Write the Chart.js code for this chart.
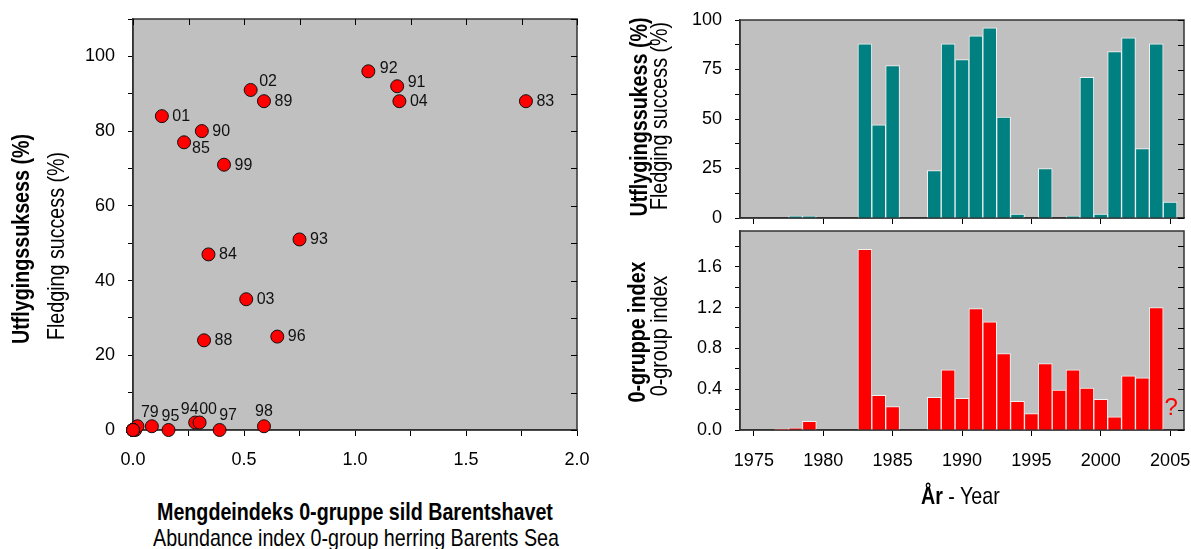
<!DOCTYPE html>
<html>
<head>
<meta charset="utf-8">
<script src="https://cdn.jsdelivr.net/npm/chart.js@4.4.1/dist/chart.umd.min.js"></script>
<style>
  body { margin: 0; background: #fff; }
  #wrap { position: relative; width: 1191px; height: 549px; overflow: hidden;
          font-family: "Liberation Sans", Arial, sans-serif; color: #000; }
  canvas { position: absolute; }
  .t { position: absolute; white-space: nowrap; font-size: 24px; line-height: 24px; }
  .b { font-weight: bold; }
  .rot { transform: translate(-50%, -50%) rotate(-90deg) scaleX(0.82); }
  .hz { transform-origin: left center; transform: scaleX(0.82); }
</style>
</head>
<body>
<div id="wrap">
  <canvas id="scatter" width="600" height="480" style="left:0;top:0"></canvas>
  <canvas id="fledge" width="591" height="230" style="left:600px;top:0"></canvas>
  <canvas id="group" width="591" height="260" style="left:600px;top:225px"></canvas>

  <div class="t b rot" style="left:21px;top:239px">Utflygingssuksess (%)</div>
  <div class="t rot" style="left:56px;top:246px">Fledging success (%)</div>
  <div class="t b hz" style="left:157px;top:500px">Mengdeindeks 0-gruppe sild Barentshavet</div>
  <div class="t hz" style="left:153px;top:526px">Abundance index 0-group herring Barents Sea</div>

  <div class="t b rot" style="left:639px;top:117px">Utflygingssukess (%)</div>
  <div class="t rot" style="left:659px;top:116px">Fledging success (%)</div>
  <div class="t b rot" style="left:637px;top:332px">0-gruppe index</div>
  <div class="t rot" style="left:659px;top:336px">0-group index</div>
  <div class="t hz" style="left:921px;top:484px"><b>År</b> - Year</div>
</div>
<script>
// data
const years    = [1975, 1976, 1977, 1978, 1979, 1980, 1981, 1982, 1983, 1984,
                  1985, 1986, 1987, 1988, 1989, 1990, 1991, 1992, 1993, 1994,
                  1995, 1996, 1997, 1998, 1999, 2000, 2001, 2002, 2003, 2004, 2005];
const fledging = [0, 0, 0, 1, 1, 0, 0, 0, 88, 47,
                  77, 0, 0, 24, 88, 80, 92, 96, 51, 2,
                  0, 25, 0, 1, 71, 2, 84, 91, 35, 88, 8];
const index0   = [0, 0, 0.01, 0.02, 0.085, 0, 0, 0, 1.77, 0.34,
                  0.23, 0, 0, 0.32, 0.59, 0.31, 1.19, 1.06, 0.75, 0.28,
                  0.16, 0.65, 0.39, 0.59, 0.41, 0.30, 0.13, 0.53, 0.51, 1.20, null];

// tick positions (labelled every other one)
const scatterXTicks = [0, 0.25, 0.5, 0.75, 1, 1.25, 1.5, 1.75, 2];
const scatterYTicks = [0, 10, 20, 30, 40, 50, 60, 70, 80, 90, 100, 110];
const yearTicks     = [1975, 1980, 1985, 1990, 1995, 2000, 2005];
const fledgeTicks   = [0, 12.5, 25, 37.5, 50, 62.5, 75, 87.5, 100];
const indexTicks    = [0, 0.2, 0.4, 0.6, 0.8, 1.0, 1.2, 1.4, 1.6, 1.8];

Chart.defaults.font.family = '"Liberation Sans", Arial, sans-serif';
Chart.defaults.font.size = 18;
Chart.defaults.color = '#000';

const BG = '#c0c0c0';

function setTicks(values) {
  return scale => { scale.ticks = values.map(v => ({ value: v })); };
}
function near(v, step) {
  const r = v / step;
  return Math.abs(r - Math.round(r)) < 1e-6;
}
// fix an axis' thickness and drop the label overhang padding
function fixSize(prop, size) {
  return s => {
    s[prop] = size;
    s.paddingTop = s.paddingBottom = s.paddingLeft = s.paddingRight = 0;
  };
}

// grey plot area, frame and inward ticks
const framePlugin = {
  id: 'frame',
  beforeDraw(chart) {
    const { ctx, chartArea: a } = chart;
    ctx.save();
    ctx.fillStyle = BG;
    ctx.fillRect(a.left, a.top, a.width, a.height);
    ctx.restore();
  },
  beforeDatasetsDraw(chart, args, opts) {
    const { ctx, chartArea: a } = chart;
    ctx.save();
    ctx.strokeStyle = '#333';
    ctx.lineWidth = 1.5;
    ctx.strokeRect(a.left, a.top, a.width, a.height);
    ctx.strokeStyle = '#000';
    ctx.lineWidth = 1;
    ctx.beginPath();
    if (opts.right) {
      const ys = chart.scales.y;
      ys.ticks.forEach(t => {
        const y = Math.round(ys.getPixelForValue(t.value)) + 0.5;
        ctx.moveTo(a.right - 6, y); ctx.lineTo(a.right, y);
      });
    }
    if (opts.top) {
      const xs = chart.scales.x;
      xs.ticks.forEach(t => {
        const x = Math.round(xs.getPixelForValue(t.value)) + 0.5;
        ctx.moveTo(x, a.top); ctx.lineTo(x, a.top + 6);
      });
    }
    ctx.stroke();
    ctx.restore();
  }
};

// ---------- scatter ----------
const scatterPts = years
  .map((yr, i) => ({ x: index0[i], y: fledging[i], yr: yr }))
  .filter(p => p.x !== null && p.yr <= 2004);

const labelPos = {
  1979: [-2, -14, 'center'], 1995: [2, -13.5, 'center'], 1994: [-5.5, -12.5, 'center'],
  2000: [8.5, -13, 'center'], 1997: [8.5, -14.5, 'center'], 1998: [0, -14.5, 'center'],
  1992: [11.5, -3, 'left'], 1991: [10.5, -3.5, 'left'], 2002: [8.5, -8.5, 'left'],
  1985: [8, 6, 'left']
};

const pointLabels = {
  id: 'pointLabels',
  afterDatasetsDraw(chart) {
    const { ctx } = chart;
    const meta = chart.getDatasetMeta(0);
    ctx.save();
    ctx.font = '16px "Liberation Sans", Arial, sans-serif';
    ctx.fillStyle = '#111';
    ctx.textBaseline = 'middle';
    meta.data.forEach((el, i) => {
      const p = scatterPts[i];
      if (p.x < 0.05) return;
      const [dx, dy, al] = labelPos[p.yr] || [10.5, 0.5, 'left'];
      ctx.textAlign = al;
      ctx.fillText(String(p.yr).slice(2), el.x + dx, el.y + dy);
    });
    ctx.restore();
  }
};

new Chart(document.getElementById('scatter'), {
  type: 'scatter',
  data: {
    datasets: [{
      data: scatterPts,
      backgroundColor: '#ff0000',
      borderColor: '#111',
      borderWidth: 1,
      pointRadius: 6.5,
      clip: false
    }]
  },
  options: {
    responsive: false,
    animation: false,
    events: [],
    layout: { padding: { left: 0, top: 19, right: 23, bottom: 0 } },
    plugins: { legend: { display: false }, tooltip: { enabled: false }, frame: { right: true, top: true } },
    scales: {
      x: {
        type: 'linear', min: 0, max: 2,
        afterBuildTicks: setTicks(scatterXTicks),
        afterFit: fixSize('height', 50),
        ticks: { autoSkip: false, maxRotation: 0, padding: 13,
                 callback: v => near(v, 0.5) ? v.toFixed(1) : '' },
        grid: { drawOnChartArea: false, tickLength: 6, color: '#000' },
        border: { color: '#333', width: 1.5 }
      },
      y: {
        min: 0, max: 110,
        afterBuildTicks: setTicks(scatterYTicks),
        afterFit: fixSize('width', 133),
        ticks: { autoSkip: false, padding: 13,
                 callback: v => near(v, 20) ? String(v) : '' },
        grid: { drawOnChartArea: false, tickLength: 5, color: '#000' },
        border: { color: '#333', width: 1.5 }
      }
    }
  },
  plugins: [framePlugin, pointLabels]
});

// ---------- bar charts ----------
function barChart(id, values, color, yMax, yTicks, labelStep, decimals, showYears, padTop, xHeight, extra) {
  return new Chart(document.getElementById(id), {
    type: 'bar',
    data: {
      datasets: [{
        data: years.map((yr, i) => ({ x: yr, y: values[i] })),
        backgroundColor: color,
        borderColor: '#f2f2f2',
        borderWidth: 1,
        barPercentage: 1,
        categoryPercentage: 1
      }]
    },
    options: {
      responsive: false,
      animation: false,
      events: [],
      layout: { padding: { left: 0, top: padTop, right: 7, bottom: 0 } },
      plugins: { legend: { display: false }, tooltip: { enabled: false }, frame: { right: true, top: false } },
      scales: {
        x: {
          type: 'linear', min: 1974, max: 2006, offset: false,
          afterBuildTicks: setTicks(yearTicks),
          afterFit: fixSize('height', xHeight),
          ticks: { autoSkip: false, maxRotation: 0, padding: 14,
                   callback: v => showYears ? String(v) : '' },
          grid: { drawOnChartArea: false, tickLength: 6, color: '#000', offset: false },
          border: { color: '#333', width: 1.5 }
        },
        y: {
          min: 0, max: yMax,
          afterBuildTicks: setTicks(yTicks),
          afterFit: fixSize('width', 140),
          ticks: { autoSkip: false, padding: 13,
                   callback: v => near(v, labelStep) ? v.toFixed(decimals) : '' },
          grid: { drawOnChartArea: false, tickLength: 5, color: '#000' },
          border: { color: '#333', width: 1.5 }
        }
      }
    },
    plugins: [framePlugin].concat(extra || [])
  });
}

const questionMark = {
  id: 'questionMark',
  afterDatasetsDraw(chart) {
    const { ctx } = chart;
    const x = chart.scales.x.getPixelForValue(2005);
    const y = chart.scales.y.getPixelForValue(0) - 15;
    ctx.save();
    ctx.font = '24px "Liberation Sans", Arial, sans-serif';
    ctx.fillStyle = '#ff0000';
    ctx.textAlign = 'center';
    ctx.textBaseline = 'alphabetic';
    ctx.fillText('?', x + 1, y);
    ctx.restore();
  }
};

barChart('fledge', fledging, '#008080', 100, fledgeTicks, 25, 0, false, 20, 12);
barChart('group', index0, '#ff0000', 1.95, indexTicks, 0.4, 1, true, 6, 55, [questionMark]);
</script>
</body>
</html>
